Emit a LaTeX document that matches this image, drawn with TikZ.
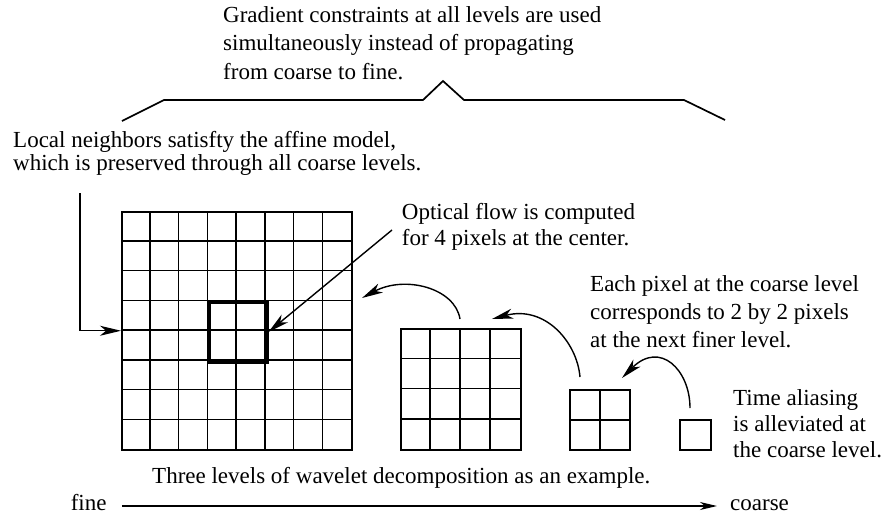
\documentclass[tikz,border=0pt]{standalone}
\usepackage{fontspec}
\setmainfont{Liberation Serif}
\usetikzlibrary{arrows.meta}
\tikzset{
  txt/.style={anchor=base west, align=left, inner sep=0pt, font=\fontsize{23}{26}\selectfont},
  gridbox/.style={draw, line width=1.5pt, inner sep=0pt, anchor=north west},
  gl/.style={line width=1.5pt},
  thickbox/.style={draw, line width=3.8pt, inner sep=0pt, anchor=north west},
  conn/.style={line width=1.4pt, -{Stealth[length=21pt,width=10pt,inset=6pt]}},
  barr/.style={line width=1.4pt, -{Stealth[length=17pt,width=8pt,inset=5pt]}},
  bracel/.style={line width=1.7pt, line join=miter}
}
\begin{document}
\begin{tikzpicture}[x=1pt,y=-1pt]
\useasboundingbox (0,0) rectangle (886,517);

% texts (anchor = baseline of the last line)
\node[txt, font=\fontsize{23}{28.5}\selectfont] (top) at (223,79) {Gradient constraints at all levels are used\\simultaneously instead of propagating\\from coarse to fine.};
\node[txt, font=\fontsize{23}{23}\selectfont] (left) at (13,170) {Local neighbors satisfty the affine model,\\which is preserved through all coarse levels.};
\node[txt, font=\fontsize{23}{26}\selectfont] (optical) at (401.7,245) {Optical flow is computed\\for 4 pixels at the center.};
\node[txt, font=\fontsize{23}{28}\selectfont] (each) at (590,347) {Each pixel at the coarse level\\corresponds to 2 by 2 pixels\\at the next finer level.};
\node[txt, font=\fontsize{23}{26}\selectfont] (time) at (733,457) {Time aliasing\\is alleviated at\\the coarse level.};
\node[txt] (caption) at (152,483) {Three levels of wavelet decomposition as an example.};
\node[txt] (fine) at (70.6,510) {fine};
\node[txt] (coarse) at (730,510) {coarse};

% brace
\draw[bracel] (122,121) -- (164,100) -- (423,100) -- (443,81) -- (464,100) -- (684,100) -- (725,120);

% big grid 8x8
\node[gridbox, minimum width=230pt, minimum height=238pt] (big) at (121,211) {};
\foreach \i in {1,...,7} {
  \draw[gl] ([xshift=\i*28.75pt]big.north west) -- ([xshift=\i*28.75pt]big.south west);
  \draw[gl] ([yshift=-\i*29.75pt]big.north west) -- ([yshift=-\i*29.75pt]big.north east);
}
\node[thickbox, minimum width=57.5pt, minimum height=59.5pt] (center) at (207.25,300.25) {};

% medium grid 4x4
\node[gridbox, minimum width=120pt, minimum height=121pt] (med) at (400,328) {};
\foreach \i in {1,...,3} {
  \draw[gl] ([xshift=\i*30pt]med.north west) -- ([xshift=\i*30pt]med.south west);
  \draw[gl] ([yshift=-\i*30.25pt]med.north west) -- ([yshift=-\i*30.25pt]med.north east);
}

% small grid 2x2
\node[gridbox, minimum width=60pt, minimum height=60pt] (small) at (569,389) {};
\draw[gl] (small.north) -- (small.south);
\draw[gl] (small.west) -- (small.east);

% single pixel
\node[gridbox, minimum width=31pt, minimum height=30pt] (single) at (679,419) {};

% connectors
\coordinate (lstart) at (80,193);
\draw[conn] (lstart) |- (big.west);

\coordinate (ostart) at (392,230);
\draw[conn] (ostart) -- (center.east);

\coordinate (c1s) at (460,319);
\coordinate (c1e) at (362,298);
\draw[conn] (c1s) .. controls (455,288) and (405,275) .. (c1e);

\coordinate (c2s) at (580,377);
\coordinate (c2e) at (492,319);
\draw[conn] (c2s) .. controls (577,342) and (545,305) .. (c2e);

\coordinate (c3s) at (690,408);
\coordinate (c3e) at (622,378);
\draw[conn] (c3s) .. controls (690,370) and (660,340) .. (c3e);

\draw[barr] ([xshift=15pt,yshift=4pt]fine.base east) -- ([xshift=-13pt,yshift=4pt]coarse.base west);
\end{tikzpicture}
\end{document}
